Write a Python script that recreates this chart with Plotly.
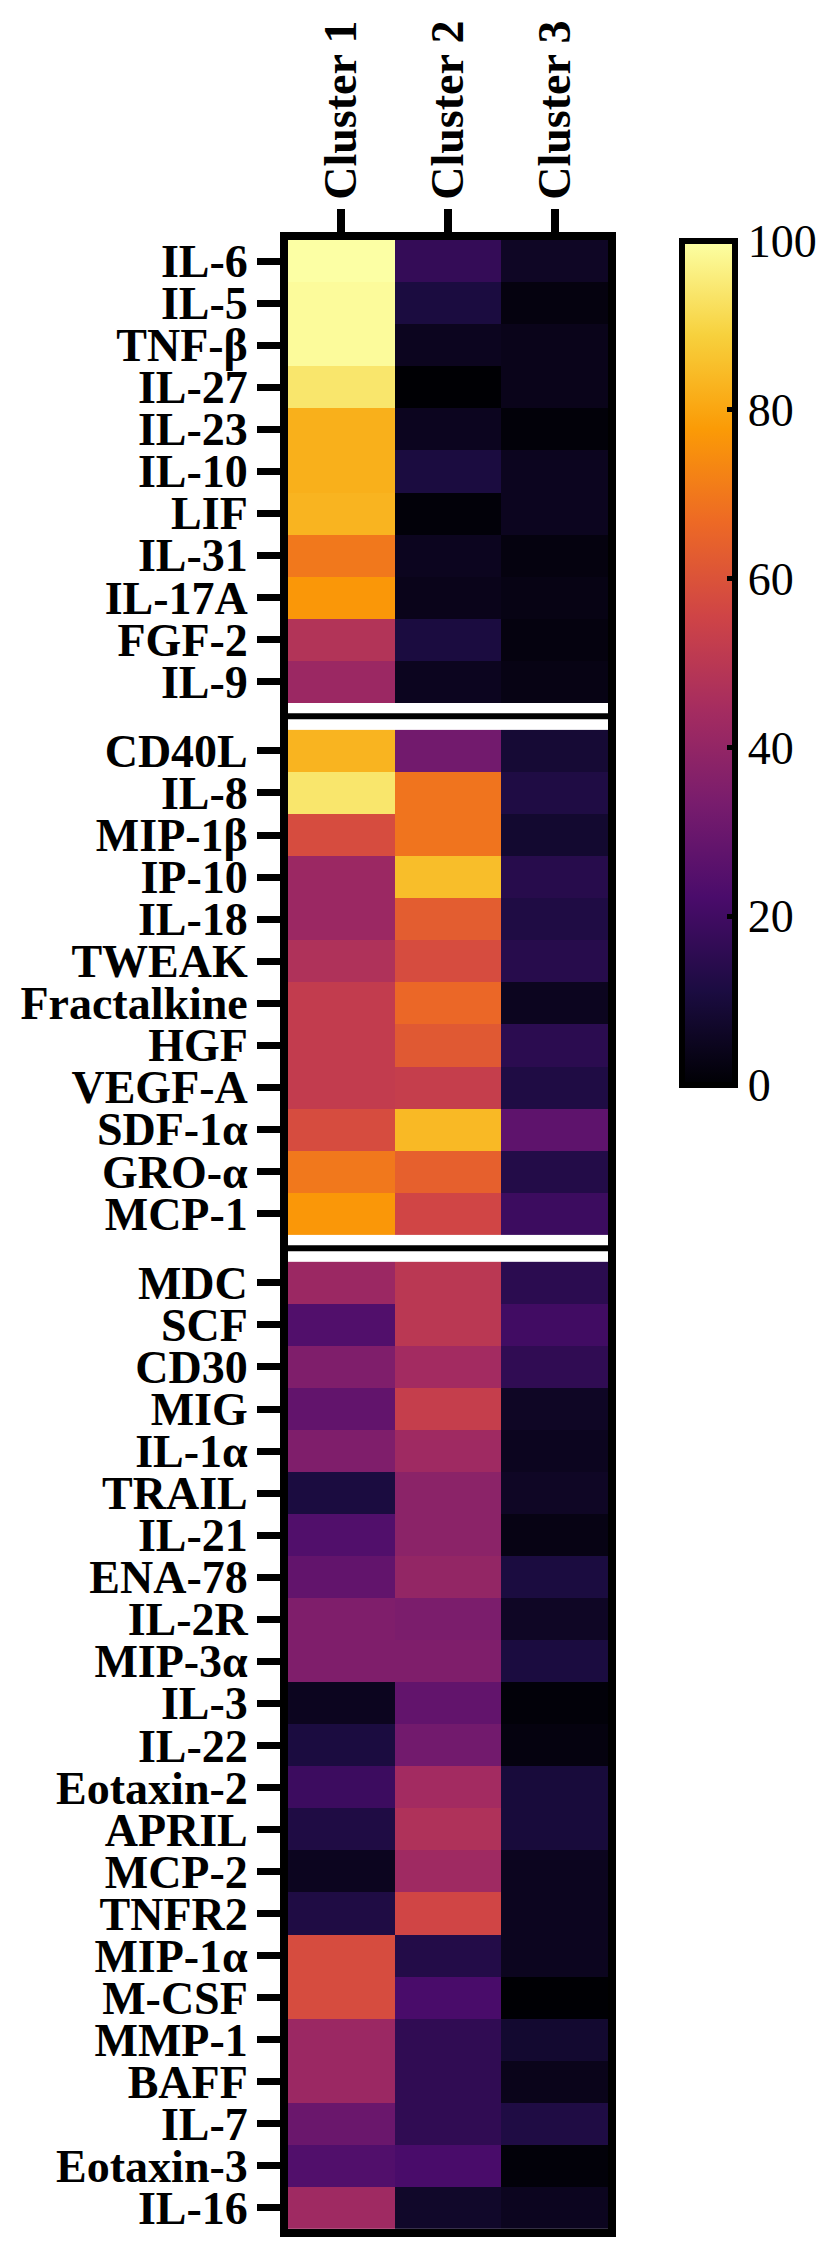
import plotly.graph_objects as go

clusters = ["Cluster 1", "Cluster 2", "Cluster 3"]

group1_labels = ["IL-6", "IL-5", "TNF-β", "IL-27", "IL-23", "IL-10", "LIF", "IL-31", "IL-17A", "FGF-2", "IL-9"]
group1_c1 = [100, 99, 99, 94, 82, 82, 83, 70, 77, 48, 42]
group1_c2 = [17, 11, 5, 0, 5, 11, 1, 5, 4, 11, 5]
group1_c3 = [6, 2, 4, 4, 1, 5, 5, 2, 3, 2, 3]

group2_labels = ["CD40L", "IL-8", "MIP-1β", "IP-10", "IL-18", "TWEAK", "Fractalkine", "HGF", "VEGF-A", "SDF-1α", "GRO-α", "MCP-1"]
group2_c1 = [83, 94, 58, 42, 42, 47, 52, 52, 52, 58, 70, 77]
group2_c2 = [32, 69, 69, 85, 63, 58, 66, 62, 53, 84, 64, 56]
group2_c3 = [9, 12, 8, 14, 12, 14, 5, 15, 12, 27, 13, 19]

group3_labels = ["MDC", "SCF", "CD30", "MIG", "IL-1α", "TRAIL", "IL-21", "ENA-78", "IL-2R", "MIP-3α", "IL-3", "IL-22",
                 "Eotaxin-2", "APRIL", "MCP-2", "TNFR2", "MIP-1α", "M-CSF", "MMP-1", "BAFF", "IL-7", "Eotaxin-3", "IL-16"]
group3_c1 = [42, 24, 35, 28, 35, 11, 24, 28, 35, 35, 5, 11, 19, 12, 5, 12, 58, 58, 42, 42, 30, 24, 43]
group3_c2 = [50, 50, 44, 53, 43, 38, 38, 40, 34, 35, 28, 32, 44, 47, 43, 56, 13, 22, 16, 16, 16, 22, 7]
group3_c3 = [15, 20, 16, 6, 5, 6, 3, 11, 6, 11, 1, 2, 10, 10, 5, 5, 5, 0, 8, 4, 12, 1, 5]

colorbar_ticks = [0, 20, 40, 60, 80, 100]

GAP = 0.65  # separator height in row units

groups = [
    (group1_labels, [group1_c1, group1_c2, group1_c3]),
    (group2_labels, [group2_c1, group2_c2, group2_c3]),
    (group3_labels, [group3_c1, group3_c2, group3_c3]),
]

fig = go.Figure()
tickvals, ticktext, sep_lines = [], [], []
start = 0.0
for gi, (labels, cols) in enumerate(groups):
    n = len(labels)
    edges = [start + i for i in range(n + 1)]
    z = [[cols[c][r] for c in range(3)] for r in range(n)]
    fig.add_trace(go.Heatmap(
        x=clusters, y=edges, z=z, coloraxis="coloraxis",
        hovertemplate="%{x}<br>%{z}<extra></extra>",
    ))
    tickvals += [start + i + 0.5 for i in range(n)]
    ticktext += labels
    start += n
    if gi < len(groups) - 1:
        sep_lines.append(start + GAP / 2)
        start += GAP
total = start

for yv in sep_lines:
    fig.add_shape(type="line", xref="x domain", yref="y", x0=0, x1=1, y0=yv, y1=yv,
                  line=dict(color="black", width=6), layer="above")

axis_font = dict(family="Liberation Serif", size=46, color="black", weight=700)

PLOT_L, PLOT_R, PLOT_T, PLOT_B = 274, 600, 224, 2226

fig.update_layout(
    width=838, height=2241, autosize=False,
    margin=dict(l=PLOT_L, r=838 - PLOT_R, t=PLOT_T, b=2241 - PLOT_B),
    paper_bgcolor="white", plot_bgcolor="white",
    coloraxis=dict(
        colorscale="Inferno", cmin=0, cmax=100,
        colorbar=dict(
            x=(675 - PLOT_L) / (PLOT_R - PLOT_L), xanchor="left",
            y=(PLOT_B - 225) / (PLOT_B - PLOT_T), yanchor="top",
            lenmode="pixels", len=844, thickness=53,
            xpad=0, ypad=0,
            outlinewidth=6, outlinecolor="black",
            ticks="inside", ticklen=11, tickwidth=5, tickcolor="black",
            tickvals=colorbar_ticks,
            tickfont=dict(family="Liberation Serif", size=46, color="black"),
        ),
    ),
    xaxis=dict(
        side="top", type="category", tickangle=-90,
        ticks="outside", ticklen=23, tickwidth=7.5, tickcolor="black",
        showline=True, linewidth=8, linecolor="black", mirror=True,
        tickfont=axis_font, showgrid=False, zeroline=False, fixedrange=True,
    ),
    yaxis=dict(
        range=[total, 0], tickvals=tickvals, ticktext=ticktext,
        ticks="outside", ticklen=23, tickwidth=7, tickcolor="black",
        showline=True, linewidth=8, linecolor="black", mirror=True,
        tickfont=axis_font, showgrid=False, zeroline=False, fixedrange=True,
    ),
)

fig.write_html("out.html")
